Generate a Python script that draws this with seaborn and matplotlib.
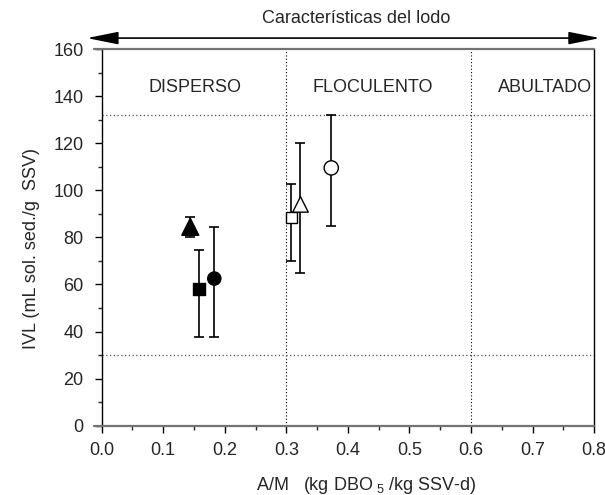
import numpy as np
import pandas as pd
import matplotlib
matplotlib.use("Agg")
import matplotlib.pyplot as plt
from matplotlib.ticker import MultipleLocator
import seaborn as sns

# Datos
series = ["tri_lleno", "cua_lleno", "cir_lleno", "cua_abierto", "tri_abierto", "cir_abierto"]
am = [0.144, 0.158, 0.183, 0.308, 0.323, 0.373]
ivl = [84.5, 58.0, 62.5, 88.4, 94.0, 109.5]
ivl_min = [80.0, 37.5, 37.5, 70.0, 65.0, 85.0]
ivl_max = [88.5, 74.5, 84.5, 102.5, 120.0, 132.0]
relleno = ["lleno", "lleno", "lleno", "abierto", "abierto", "abierto"]

zonas = ["DISPERSO", "FLOCULENTO", "ABULTADO"]
zonas_x = [0.152, 0.44, 0.72]
limites_x = [0.3, 0.6]
limites_y = [30, 132]

df = pd.DataFrame({"serie": series, "am": am, "ivl": ivl,
                   "lo": ivl_min, "hi": ivl_max, "relleno": relleno})

sns.set_style("ticks")
plt.rcParams["font.family"] = ["Liberation Sans", "DejaVu Sans"]
plt.rcParams["mathtext.default"] = "regular"

fig = plt.figure(figsize=(6.05, 4.95), dpi=100)
ax = fig.add_axes([0.168, 0.14, 0.814, 0.761])

# barras de error asimetricas
yerr = np.array([df["ivl"] - df["lo"], df["hi"] - df["ivl"]])
ax.errorbar(df["am"], df["ivl"], yerr=yerr, fmt="none", ecolor="black",
            elinewidth=1.2, capsize=3.5, capthick=1.2, zorder=2)

marcadores = {"tri_lleno": "^", "cua_lleno": "s", "cir_lleno": "o",
              "cua_abierto": "s", "tri_abierto": "^", "cir_abierto": "o"}
tamanos = {"tri_lleno": 150, "cua_lleno": 74, "cir_lleno": 90,
           "cua_abierto": 62, "tri_abierto": 125, "cir_abierto": 105}

llenos = df[df["relleno"] == "lleno"]
abiertos = df[df["relleno"] == "abierto"]
sns.scatterplot(data=llenos, x="am", y="ivl", style="serie", size="serie",
                markers={k: marcadores[k] for k in llenos["serie"]},
                sizes={k: tamanos[k] for k in llenos["serie"]},
                color="black", edgecolor="black", linewidth=1, legend=False,
                zorder=3, ax=ax)
sns.scatterplot(data=abiertos, x="am", y="ivl", style="serie", size="serie",
                markers={k: marcadores[k] for k in abiertos["serie"]},
                sizes={k: tamanos[k] for k in abiertos["serie"]},
                color="black", facecolor="white", edgecolor="black",
                linewidth=1, legend=False, zorder=3, ax=ax)

# lineas punteadas de las zonas
for xv in limites_x:
    ax.axvline(xv, ls=(0, (1, 2)), color="black", lw=0.8, zorder=1)
for yv in limites_y:
    ax.axhline(yv, ls=(0, (1, 2)), color="0.3", lw=0.9, zorder=1)

for nombre, xz in zip(zonas, zonas_x):
    ax.text(xz, 143.5, nombre, ha="center", va="center", fontsize=13)

ax.set_xlim(0, 0.8)
ax.set_ylim(0, 160)
ax.xaxis.set_major_locator(MultipleLocator(0.1))
ax.xaxis.set_minor_locator(MultipleLocator(0.05))
ax.yaxis.set_major_locator(MultipleLocator(20))
ax.yaxis.set_minor_locator(MultipleLocator(10))
ax.set_xticks(np.arange(0, 0.81, 0.1))
ax.set_xticklabels([f"{v:.1f}" for v in np.arange(0, 0.81, 0.1)])
ax.tick_params(axis="both", which="major", direction="out", length=5,
               width=1, labelsize=13, color="black")
ax.tick_params(axis="both", which="minor", direction="out", length=3, width=1)
ax.tick_params(axis="x", which="major", pad=7)
ax.tick_params(axis="y", which="major", pad=8)

ax.set_xlabel("A/M   (kg DBO$_{\\ 5}$ /kg SSV-d)", fontsize=13)
ax.set_ylabel("IVL (mL sol. sed./g  SSV)", fontsize=13)
ax.xaxis.set_label_coords(0.537, -0.131)
ax.yaxis.set_label_coords(-0.125, 0.47)

# marco: izquierda y derecha negras, arriba y abajo grises
for lado in ["left", "right"]:
    ax.spines[lado].set_visible(True)
    ax.spines[lado].set_color("black")
    ax.spines[lado].set_linewidth(1)
ax.spines["top"].set_visible(False)
ax.spines["bottom"].set_visible(False)
for yy in [0, 1]:
    ax.plot([-0.016, 1], [yy, yy], transform=ax.transAxes, color="0.45",
            lw=1.6, clip_on=False, zorder=4)

# flecha y titulo
ax.annotate("", xy=(1.012, 1.029), xytext=(-0.03, 1.029),
            xycoords="axes fraction", textcoords="axes fraction",
            arrowprops=dict(arrowstyle="<|-|>,head_length=1.6,head_width=0.32",
                            mutation_scale=12, color="black", lw=1.2,
                            shrinkA=0, shrinkB=0))
ax.text(0.517, 1.08, "Características del lodo", transform=ax.transAxes,
        ha="center", va="center", fontsize=13)

fig.savefig("out.png", dpi=100)
